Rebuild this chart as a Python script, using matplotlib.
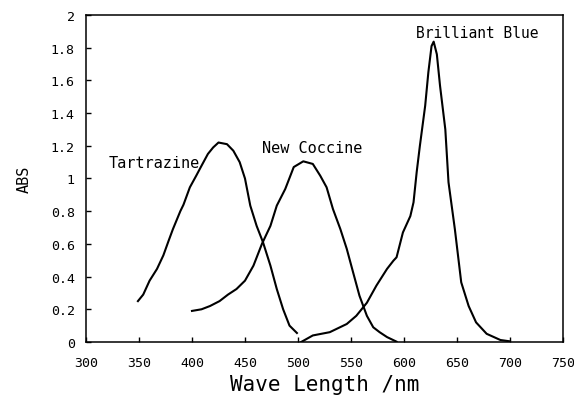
import matplotlib
matplotlib.use("Agg")
import matplotlib.pyplot as plt

# Absorption spectra
tartrazine_nm = [349, 354, 360, 367, 373, 378, 382, 389, 392, 398, 404, 409, 415, 420,
                 425, 433, 439, 445, 450, 455, 461, 467, 474, 480, 486, 492, 499]
tartrazine_abs = [0.25, 0.29, 0.375, 0.447, 0.53, 0.62, 0.69, 0.80, 0.84, 0.946, 1.017, 1.078,
                  1.15, 1.19, 1.22, 1.21, 1.17, 1.10, 1.0, 0.834, 0.71, 0.61, 0.467, 0.324,
                  0.20, 0.10, 0.055]

coccine_nm = [400, 409, 417, 426, 434, 442, 450, 458, 466, 474, 480, 488, 496, 505, 514,
              521, 527, 533, 540, 546, 552, 558, 565, 571, 577, 584, 593]
coccine_abs = [0.19, 0.20, 0.22, 0.25, 0.29, 0.324, 0.375, 0.467, 0.60, 0.71, 0.834, 0.936,
               1.07, 1.105, 1.089, 1.017, 0.946, 0.813, 0.69, 0.57, 0.426, 0.283, 0.16,
               0.09, 0.06, 0.03, 0.002]

blue_nm = [503, 514, 530, 546, 555, 565, 574, 584, 590, 593, 599, 606, 609, 612, 615, 620,
           623, 626, 628, 631, 634, 639, 642, 648, 654, 661, 668, 678, 691, 700]
blue_abs = [0.0, 0.04, 0.06, 0.11, 0.16, 0.24, 0.345, 0.447, 0.497, 0.518, 0.67, 0.77, 0.854,
            1.04, 1.20, 1.445, 1.65, 1.81, 1.837, 1.76, 1.568, 1.30, 0.977, 0.69, 0.365, 0.22,
            0.12, 0.05, 0.012, 0.004]

x_ticks = [300, 350, 400, 450, 500, 550, 600, 650, 700, 750]
y_ticks = [0, 0.2, 0.4, 0.6, 0.8, 1, 1.2, 1.4, 1.6, 1.8, 2]
y_tick_labels = ["0", "0.2", "0.4", "0.6", "0.8", "1", "1.2", "1.4", "1.6", "1.8", "2"]

plt.rcParams["font.family"] = ["DejaVu Sans Mono"]

fig = plt.figure(figsize=(5.74, 4.02), dpi=100)
ax = fig.add_axes([0.1498, 0.1468, 0.831, 0.8134])

for nm, absorb in [(tartrazine_nm, tartrazine_abs), (coccine_nm, coccine_abs), (blue_nm, blue_abs)]:
    ax.plot(nm, absorb, color="k", linewidth=1.5)

ax.text(364, 1.10, "Tartrazine", fontsize=11, ha="center", va="center")
ax.text(513, 1.187, "New Coccine", fontsize=11, ha="center", va="center")
ax.text(669, 1.89, "Brilliant Blue", fontsize=10.5, ha="center", va="center")

ax.set_xlim(300, 750)
ax.set_ylim(0, 2)
ax.set_xticks(x_ticks)
ax.set_yticks(y_ticks)
ax.set_yticklabels(y_tick_labels)
ax.tick_params(direction="in", length=3.6, width=1, labelsize=9.5)
ax.tick_params(axis="x", pad=10)
ax.tick_params(axis="y", pad=8)
for s in ax.spines.values():
    s.set_linewidth(1.1)

ax.set_xlabel("Wave Length /nm", fontsize=15, labelpad=4)
ax.set_ylabel("ABS", fontsize=11, labelpad=14)

fig.savefig("out.png", dpi=100)
